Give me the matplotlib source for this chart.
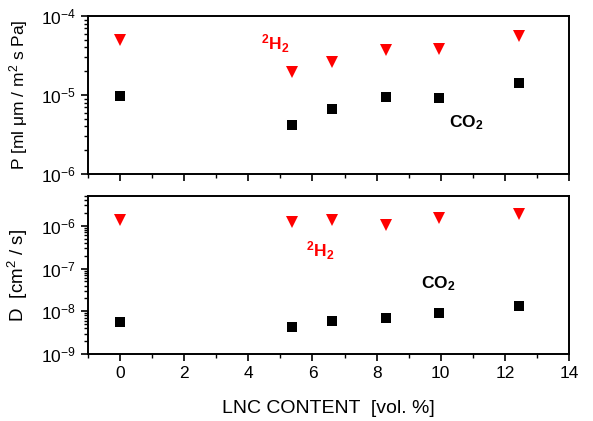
import numpy as np
import matplotlib
matplotlib.use("Agg")
import matplotlib.pyplot as plt
from matplotlib.ticker import LogLocator, MultipleLocator, NullFormatter

plt.rcParams['font.family'] = ['Liberation Sans', 'DejaVu Sans']
plt.rcParams['mathtext.fontset'] = 'custom'
plt.rcParams['mathtext.rm'] = 'Liberation Sans'
plt.rcParams['mathtext.it'] = 'Liberation Sans'
plt.rcParams['mathtext.bf'] = 'Liberation Sans:bold'

# LNC content [vol. %]
lnc = [0.0, 5.37, 6.62, 8.28, 9.94, 12.44]

# permeability
p_h2 = [5.0e-5, 1.95e-5, 2.6e-5, 3.7e-5, 3.8e-5, 5.6e-5]
p_co2 = [9.8e-6, 4.2e-6, 6.6e-6, 9.4e-6, 9.1e-6, 1.4e-5]

# diffusion
d_h2 = [1.4e-6, 1.2e-6, 1.4e-6, 1.05e-6, 1.5e-6, 1.9e-6]
d_co2 = [5.5e-9, 4.3e-9, 5.9e-9, 6.9e-9, 8.9e-9, 1.3e-8]

fig = plt.figure(figsize=(5.93, 4.21), dpi=100)
ax1 = fig.add_axes([88/593, 1 - 174/421, 481/593, 158/421])
ax2 = fig.add_axes([88/593, 1 - 354/421, 481/593, 158/421])

for ax in (ax1, ax2):
    ax.set_yscale('log')
    ax.set_xlim(-1, 14)
    ax.xaxis.set_major_locator(MultipleLocator(2))
    ax.xaxis.set_minor_locator(MultipleLocator(1))
    ax.yaxis.set_major_locator(LogLocator(base=10, numticks=20))
    ax.yaxis.set_minor_locator(LogLocator(base=10, subs=np.arange(2, 10), numticks=20))
    ax.yaxis.set_minor_formatter(NullFormatter())
    ax.tick_params(which='major', direction='out', length=5, width=1.2, labelsize=12.5)
    ax.tick_params(which='minor', direction='out', length=3, width=1)
    ax.tick_params(top=False, right=False, which='both')
    for s in ax.spines.values():
        s.set_linewidth(1.4)

ax1.plot(lnc, p_h2, 'v', color='red', markersize=9, markeredgewidth=0)
ax1.plot(lnc, p_co2, 's', color='black', markersize=7, markeredgewidth=0)
ax1.set_ylim(1e-6, 1e-4)
ax1.tick_params(labelbottom=False)
ax1.set_ylabel(r'P [ml $\mu$m / m$^2$ s Pa]', fontsize=12.5, labelpad=8)
ax1.text(4.4, 4.4e-5, r'$^\mathbf{2}$H$_\mathbf{2}$', color='red', fontsize=12.5,
         fontweight='bold', ha='left', va='center')
ax1.text(10.25, 4.5e-6, r'CO$_\mathbf{2}$', color='black', fontsize=12.5,
         fontweight='bold', ha='left', va='center')

ax2.plot(lnc, d_h2, 'v', color='red', markersize=9, markeredgewidth=0)
ax2.plot(lnc, d_co2, 's', color='black', markersize=7, markeredgewidth=0)
ax2.set_ylim(1e-9, 5e-6)
ax2.set_ylabel(r'D  [cm$^2$ / s]', fontsize=13.5, labelpad=8)
ax2.set_xlabel('LNC CONTENT  [vol. %]', fontsize=14, labelpad=14)
ax2.text(5.8, 2.6e-7, r'$^\mathbf{2}$H$_\mathbf{2}$', color='red', fontsize=12.5,
         fontweight='bold', ha='left', va='center')
ax2.text(9.4, 4.4e-8, r'CO$_\mathbf{2}$', color='black', fontsize=12.5,
         fontweight='bold', ha='left', va='center')

fig.align_ylabels([ax1, ax2])
fig.savefig('out.png', dpi=100)
